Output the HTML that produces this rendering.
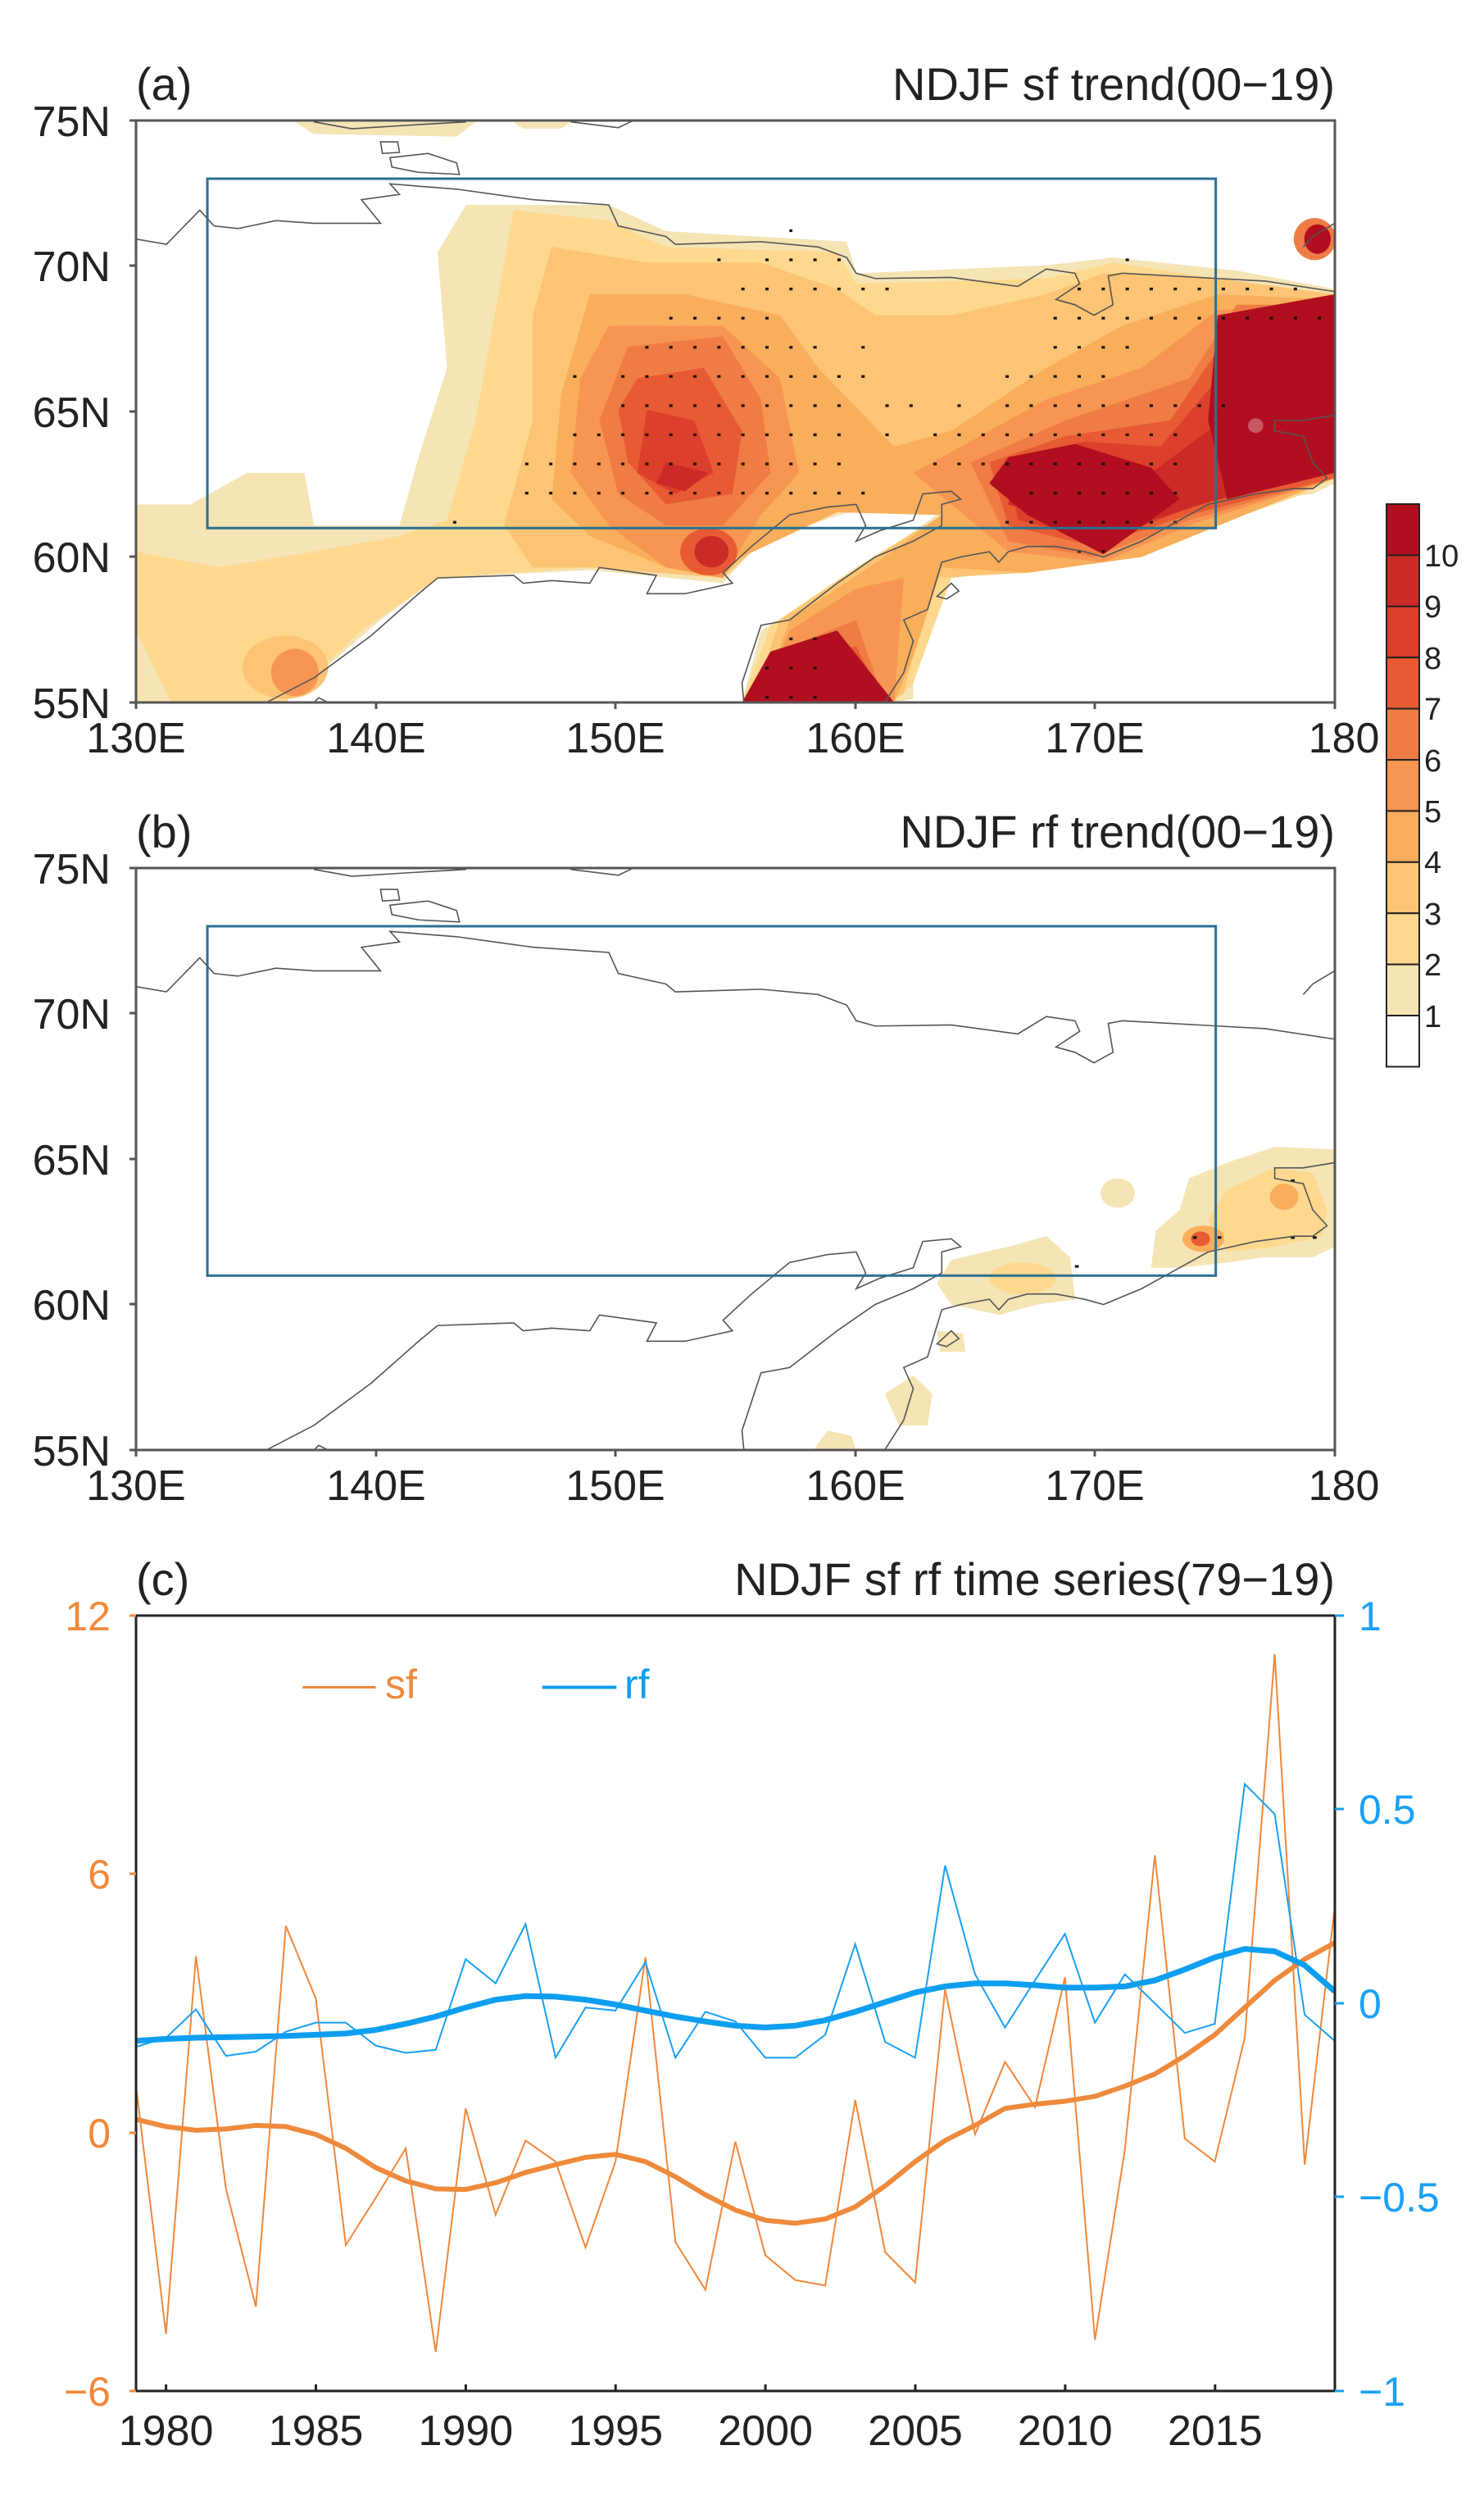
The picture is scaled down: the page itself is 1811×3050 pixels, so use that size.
<!DOCTYPE html>
<html><head><meta charset="utf-8"><style>
html,body{margin:0;padding:0;background:#fff}
svg{display:block}
text{font-family:"Liberation Sans Narrow","Liberation Sans",sans-serif}
</style></head><body>
<svg width="1811" height="3050" viewBox="0 0 1811 3050" xmlns="http://www.w3.org/2000/svg">
<defs>
<pattern id="dots" patternUnits="userSpaceOnUse" width="25.25" height="55.5">
<rect x="21.75" y="48" width="4" height="5" fill="#111"/>
</pattern>
<g id="coast" fill="none" stroke="#555" stroke-width="1.6" vector-effect="non-scaling-stroke">
<polyline vector-effect="non-scaling-stroke" points="330,232 370,245 450,236 490,232"/>
<polyline vector-effect="non-scaling-stroke" points="600,232 650,243 665,230"/>
<polygon vector-effect="non-scaling-stroke" points="400,270 418,270 420,290 402,292"/>
<polygon vector-effect="non-scaling-stroke" points="410,300 450,292 480,310 483,332 440,328 412,318"/>
<polyline vector-effect="non-scaling-stroke" points="143,455 175,465 210,400 225,430 250,435 290,420 330,425 400,425 380,380 420,370 410,350 480,360 560,380 640,390 650,430 700,450 710,465 800,460 860,470 890,490 900,520 920,530 1000,528 1070,545 1100,512 1130,520 1135,540 1110,570 1130,580 1150,600 1170,580 1165,525 1180,520 1280,530 1330,535 1403,555"/>
<polyline vector-effect="non-scaling-stroke" points="1370,470 1380,450 1403,425"/>
<polyline vector-effect="non-scaling-stroke" points="280,1337 330,1290 390,1210 440,1130 460,1100 540,1095 550,1110 580,1105 620,1110 630,1080 670,1090 690,1095 680,1130 720,1130 770,1110 760,1090 790,1040 830,980 870,965 900,960 910,1000 900,1030 925,1010 960,990 970,940 1000,935 1010,950 990,960 990,1000 960,1030 920,1060 880,1110 830,1180 800,1190 780,1300 782,1337"/>
<polyline vector-effect="non-scaling-stroke" points="930,1337 950,1280 960,1220 950,1180 975,1160 990,1070 1010,1060 1040,1050 1050,1070 1060,1050 1080,1040 1110,1040 1140,1050 1160,1060 1200,1030 1230,1000 1270,960 1320,940 1360,930 1380,930 1395,910 1380,880 1370,830 1340,820 1340,800 1370,800 1403,790"/>
<polygon vector-effect="non-scaling-stroke" points="985,1135 1000,1110 1008,1125 995,1140"/>
<polyline vector-effect="non-scaling-stroke" points="330,1337 335,1328 345,1337"/>
</g>
</defs>

<!-- Panel a -->
<svg x="0" y="0" width="1811" height="1000" viewBox="0 0 1560 1560" preserveAspectRatio="none">
<g stroke="none">
<polygon fill="#f5e4b4" points="143,960 200,960 260,900 320,900 330,1000 420,1000 440,870 470,700 460,480 490,390 640,390 700,440 890,460 900,520 1100,505 1170,490 1300,515 1403,550 1403,920 1380,940 1270,960 1200,1030 1160,1070 1060,1060 1000,1080 960,1150 960,1330 940,1337 780,1337 800,1200 900,1090 1000,960 900,970 800,1030 760,1110 620,1085 460,1100 400,1180 330,1290 290,1337 143,1337"/>
<polygon fill="#f5e4b4" points="310,232 500,232 480,260 330,255"/><polygon fill="#f5e4b4" points="540,232 600,232 590,245 550,245"/>
<polygon fill="#fdd88e" points="540,400 640,420 700,470 880,480 900,540 1100,530 1170,500 1280,530 1403,560 1403,910 1370,940 1200,1050 1100,1080 1000,1100 960,1300 940,1337 780,1337 810,1190 900,1080 990,980 880,975 790,1050 760,1100 620,1080 460,1100 380,1200 300,1337 180,1337 143,1200 143,1050 230,1080 330,1050 420,1020 470,990 500,800 520,600"/>
<polygon fill="#fcc474" points="580,470 680,500 800,500 880,550 920,600 1000,600 1100,560 1160,520 1280,530 1403,560 1403,910 1200,1060 1080,1090 980,1100 950,1320 930,1337 790,1337 820,1180 920,1060 990,980 880,975 790,1050 760,1100 620,1080 560,1080 530,1000 560,800 560,600"/>
<ellipse fill="#fcc474" cx="300" cy="1270" rx="45" ry="60"/>
<polygon fill="#f9ae5c" points="620,560 720,560 820,600 860,700 940,850 1000,820 1100,700 1180,620 1280,560 1403,570 1403,910 1200,1060 1080,1090 990,1080 960,1250 940,1337 800,1337 830,1180 930,1060 990,980 880,975 780,1060 700,1080 620,1020 580,950 590,750"/>
<ellipse fill="#f79652" cx="310" cy="1280" rx="25" ry="45"/>
<polygon fill="#f79652" points="640,620 760,620 820,720 840,900 800,980 760,1100 700,1080 640,1000 600,900 610,720"/>
<polygon fill="#f79652" points="1000,860 1100,760 1200,700 1280,590 1403,580 1403,910 1250,1000 1160,1070 1060,1050 1000,960 960,900"/>
<polygon fill="#f79652" points="800,1337 830,1200 900,1120 950,1100 940,1337"/>
<polygon fill="#f07c45" points="660,660 760,640 800,760 810,900 760,1000 700,1000 650,940 630,800"/>
<polygon fill="#f07c45" points="1020,880 1120,800 1250,720 1300,580 1403,580 1403,910 1250,990 1150,1060 1060,1030"/>
<polygon fill="#f07c45" points="790,1337 830,1230 900,1180 930,1337"/>
<ellipse fill="#e85a34" cx="745" cy="1050" rx="30" ry="45"/>
<polygon fill="#e85a34" points="670,720 740,700 780,820 770,940 700,960 660,880 650,780"/>
<polygon fill="#e85a34" points="1040,880 1120,830 1230,800 1290,640 1403,600 1403,910 1250,980 1150,1040 1060,1000"/>
<polygon fill="#e85a34" points="785,1337 820,1250 900,1230 930,1337"/>
<ellipse fill="#cc2a27" cx="748" cy="1050" rx="18" ry="30"/>
<polygon fill="#dc3f2b" points="680,780 730,800 750,900 710,940 670,900"/>
<polygon fill="#dc3f2b" points="1060,880 1140,840 1220,850 1290,700 1403,620 1403,900 1260,960 1160,1030 1070,990"/>
<polygon fill="#cc2a27" points="700,880 745,900 720,935 690,920"/>
<polygon fill="#cc2a27" points="1070,880 1150,860 1210,900 1300,780 1403,640 1403,900 1280,950 1160,1020 1060,960"/>
<polygon fill="#b10f1f" points="1060,870 1130,845 1210,890 1240,950 1160,1055 1080,980 1040,920"/>
<polygon fill="#b10f1f" points="1280,600 1403,560 1403,900 1290,950 1270,800"/>
<polygon fill="#b10f1f" points="780,1337 810,1240 880,1200 940,1337"/>
<ellipse fill="#f07c45" cx="1382" cy="455" rx="22" ry="40"/><ellipse fill="#b10f1f" cx="1385" cy="455" rx="14" ry="28"/>
<ellipse fill="#fff" cx="1320" cy="810" rx="8" ry="14" opacity="0.3"/>
</g>
<g fill="url(#dots)">
<rect x="825" y="435" width="8" height="10"/>
<rect x="750" y="488" width="10" height="10"/><rect x="800" y="488" width="86" height="10"/><rect x="1179" y="488" width="10" height="10"/>
<rect x="775" y="544" width="162" height="10"/><rect x="1129" y="544" width="235" height="10"/>
<rect x="699" y="600" width="111" height="10"/><rect x="1104" y="600" width="287" height="10"/>
<rect x="674" y="655" width="187" height="10"/><rect x="901" y="655" width="10" height="10"/><rect x="1104" y="655" width="85" height="10"/>
<rect x="598" y="711" width="10" height="10"/><rect x="649" y="711" width="262" height="10"/><rect x="1053" y="711" width="111" height="10"/>
<rect x="649" y="766" width="237" height="10"/><rect x="926" y="766" width="35" height="10"/><rect x="1002" y="766" width="10" height="10"/><rect x="1053" y="766" width="236" height="10"/>
<rect x="598" y="822" width="288" height="10"/><rect x="926" y="822" width="10" height="10"/><rect x="977" y="822" width="262" height="10"/>
<rect x="548" y="877" width="338" height="10"/><rect x="977" y="877" width="262" height="10"/>
<rect x="548" y="933" width="363" height="10"/><rect x="1078" y="933" width="161" height="10"/>
<rect x="473" y="988" width="10" height="10"/><rect x="1053" y="988" width="186" height="10"/>
<rect x="1129" y="1043" width="35" height="10"/>
<rect x="825" y="1209" width="35" height="10"/><rect x="800" y="1265" width="60" height="10"/><rect x="800" y="1320" width="60" height="10"/>
</g>
<use href="#coast"/>
<rect x="218" y="340" width="1060" height="665" fill="none" stroke="#2a7090" stroke-width="3" vector-effect="non-scaling-stroke"/>
</svg>

<!-- Panel b -->
<svg x="0" y="912" width="1811" height="1000" viewBox="0 0 1560 1560" preserveAspectRatio="none">
<g stroke="none">
<polygon fill="#f5e4b4" points="1250,820 1290,790 1340,760 1403,765 1403,950 1380,970 1330,970 1290,980 1240,990 1210,990 1215,920 1240,880"/>
<polygon fill="#fdd88e" points="1290,840 1340,800 1380,810 1395,880 1390,930 1340,950 1290,960 1270,900"/>
<ellipse fill="#f9ae5c" cx="1265" cy="935" rx="22" ry="25"/><ellipse fill="#e85a34" cx="1262" cy="935" rx="10" ry="14"/>
<ellipse fill="#f9ae5c" cx="1350" cy="855" rx="15" ry="25"/>
<ellipse fill="#f5e4b4" cx="1175" cy="848" rx="18" ry="28"/>
<polygon fill="#f5e4b4" points="1000,975 1060,950 1100,930 1125,970 1130,1050 1090,1060 1050,1080 1000,1060 985,1020"/>
<ellipse fill="#fdd88e" cx="1075" cy="1010" rx="35" ry="30"/>
<polygon fill="#f5e4b4" points="930,1230 960,1195 980,1230 975,1290 945,1290"/>
<polygon fill="#f5e4b4" points="855,1337 870,1300 895,1310 900,1337"/>
<polygon fill="#f5e4b4" points="985,1110 1012,1115 1015,1150 988,1150"/>
</g>
<g fill="#111"><rect x="1254" y="930" width="4" height="5"/><rect x="1280" y="930" width="4" height="5"/><rect x="1357" y="930" width="4" height="5"/><rect x="1380" y="930" width="4" height="5"/><rect x="1130" y="985" width="4" height="5"/><rect x="1357" y="822" width="4" height="5"/></g>
<use href="#coast"/>
<rect x="218" y="340" width="1060" height="665" fill="none" stroke="#2a7090" stroke-width="3" vector-effect="non-scaling-stroke"/>
</svg>

<!-- Map frames, ticks, labels -->
<g fill="none" stroke="#555" stroke-width="3">
<rect x="166" y="147" width="1463" height="710"/>
<rect x="166" y="1059" width="1463" height="710"/>
<path d="M158 147H166M158 324H166M158 502H166M158 679H166M158 857H166M166 857V865M459 857V865M751 857V865M1044 857V865M1336 857V865M1629 857V865"/>
<path d="M158 1059H166M158 1236H166M158 1414H166M158 1591H166M158 1769H166M166 1769V1777M459 1769V1777M751 1769V1777M1044 1769V1777M1336 1769V1777M1629 1769V1777"/>
</g>
<g font-size="56" fill="#222">
<text x="166" y="122">(a)</text>
<text x="1629" y="122" text-anchor="end">NDJF  sf  trend(00−19)</text>
<text x="166" y="1034">(b)</text>
<text x="1629" y="1034" text-anchor="end">NDJF  rf  trend(00−19)</text>
<text x="166" y="1946">(c)</text>
<text x="1629" y="1946" text-anchor="end">NDJF  sf  rf  time  series(79−19)</text>
</g>
<g font-size="52" fill="#222" text-anchor="end">
<text x="135" y="166">75N</text><text x="135" y="343">70N</text><text x="135" y="521">65N</text><text x="135" y="698">60N</text><text x="135" y="876">55N</text>
<text x="135" y="1078">75N</text><text x="135" y="1255">70N</text><text x="135" y="1433">65N</text><text x="135" y="1610">60N</text><text x="135" y="1788">55N</text>
</g>
<g font-size="52" fill="#222" text-anchor="middle">
<text x="166" y="918">130E</text><text x="459" y="918">140E</text><text x="751" y="918">150E</text><text x="1044" y="918">160E</text><text x="1336" y="918">170E</text><text x="1640" y="918">180</text>
<text x="166" y="1830">130E</text><text x="459" y="1830">140E</text><text x="751" y="1830">150E</text><text x="1044" y="1830">160E</text><text x="1336" y="1830">170E</text><text x="1640" y="1830">180</text>
</g>

<!-- Colorbar -->
<g stroke="#222" stroke-width="2">
<rect x="1692" y="615" width="40" height="62.4" fill="#b10f1f"/>
<rect x="1692" y="677.4" width="40" height="62.4" fill="#cc2a27"/>
<rect x="1692" y="739.8" width="40" height="62.4" fill="#dc3f2b"/>
<rect x="1692" y="802.2" width="40" height="62.4" fill="#e85a34"/>
<rect x="1692" y="864.6" width="40" height="62.4" fill="#f07c45"/>
<rect x="1692" y="927" width="40" height="62.4" fill="#f79652"/>
<rect x="1692" y="989.4" width="40" height="62.4" fill="#f9ae5c"/>
<rect x="1692" y="1051.8" width="40" height="62.4" fill="#fcc474"/>
<rect x="1692" y="1114.2" width="40" height="62.4" fill="#fdd88e"/>
<rect x="1692" y="1176.6" width="40" height="62.4" fill="#f5e4b4"/>
<rect x="1692" y="1239" width="40" height="62.4" fill="#fff"/>
</g>
<g font-size="38" fill="#222">
<text x="1738" y="691">10</text><text x="1738" y="753">9</text><text x="1738" y="816">8</text><text x="1738" y="878">7</text><text x="1738" y="941">6</text><text x="1738" y="1003">5</text><text x="1738" y="1065">4</text><text x="1738" y="1128">3</text><text x="1738" y="1190">2</text><text x="1738" y="1253">1</text>
</g>

<!-- Panel c -->
<svg x="0" y="1900" width="1811" height="1150" viewBox="0 0 1560 1560" preserveAspectRatio="none">
<polyline fill="none" stroke="#f0883a" stroke-width="2" vector-effect="non-scaling-stroke" points="143,875 174.5,1285 206,660 237.5,1045 269,1240 300.5,610 332,730 363.5,1138 395,1060 426.5,978 458,1315 489.5,912 521,1088 552.5,965 584,1000 615.5,1142 647,1000 678.5,662 710,1133 741.5,1212 773,967 804.5,1155 836,1196 867.5,1205 899,898 930.5,1150 962,1200 993.5,715 1025,955 1056.5,835 1088,910 1119.5,695 1151,1295 1182.5,980 1214,493 1245.5,962 1277,1000 1308.5,795 1340,160 1371.5,1005 1403,580"/>
<polyline fill="none" stroke="#1aa0f5" stroke-width="2" vector-effect="non-scaling-stroke" points="143,810 174.5,795 206,748 237.5,825 269,818 300.5,785 332,770 363.5,770 395,808 426.5,820 458,815 489.5,665 521,705 552.5,607 584,828 615.5,745 647,750 678.5,670 710,828 741.5,752 773,768 804.5,828 836,828 867.5,790 899,640 930.5,802 962,828 993.5,510 1025,690 1056.5,778 1088,700 1119.5,623 1151,770 1182.5,690 1214,738 1245.5,787 1277,772 1308.5,375 1340,425 1371.5,757 1403,800"/>
<polyline fill="none" stroke="#ee8a3c" stroke-width="6" stroke-linejoin="round" vector-effect="non-scaling-stroke" points="143,930 174.5,942 206,948 237.5,946 269,940 300.5,942 332,955 363.5,978 395,1010 426.5,1032 458,1045 489.5,1046 521,1035 552.5,1018 584,1005 615.5,993 647,988 678.5,1000 710,1025 741.5,1055 773,1080 804.5,1097 836,1102 867.5,1095 899,1075 930.5,1040 962,1000 993.5,965 1025,940 1056.5,912 1088,905 1119.5,900 1151,892 1182.5,875 1214,855 1245.5,825 1277,790 1308.5,745 1340,700 1371.5,665 1403,638"/>
<polyline fill="none" stroke="#0d9ef0" stroke-width="7" stroke-linejoin="round" vector-effect="non-scaling-stroke" points="143,800 174.5,797 206,795 237.5,794 269,793 300.5,792 332,790 363.5,788 395,782 426.5,772 458,760 489.5,745 521,732 552.5,726 584,727 615.5,732 647,740 678.5,750 710,760 741.5,768 773,775 804.5,778 836,775 867.5,766 899,752 930.5,736 962,720 993.5,710 1025,705 1056.5,705 1088,708 1119.5,712 1151,712 1182.5,710 1214,700 1245.5,682 1277,662 1308.5,648 1340,652 1371.5,675 1403,718"/>
<line x1="318" y1="215" x2="395" y2="215" stroke="#ee8a3c" stroke-width="3" vector-effect="non-scaling-stroke"/>
<line x1="570" y1="215" x2="648" y2="215" stroke="#0d9ef0" stroke-width="4" vector-effect="non-scaling-stroke"/>
</svg>
<rect x="166" y="1971" width="1463" height="946" fill="none" stroke="#222" stroke-width="3"/>
<path d="M158 1971H166M158 2286H166M158 2602H166M158 2917H166" stroke="#f0883a" stroke-width="3"/>
<path d="M1629 1971H1640M1629 2207H1640M1629 2444H1640M1629 2680H1640M1629 2917H1640" stroke="#1aa0f5" stroke-width="3"/>
<path d="M202.6 2917V2909M385.5 2917V2909M568.4 2917V2909M751.2 2917V2909M934.1 2917V2909M1117 2917V2909M1299.9 2917V2909M1482.8 2917V2909" stroke="#222" stroke-width="3"/>
<g font-size="50" fill="#f0883a" text-anchor="end">
<text x="135" y="1989">12</text><text x="135" y="2304">6</text><text x="135" y="2620">0</text><text x="135" y="2935">−6</text>
</g>
<g font-size="50" fill="#1aa0f5">
<text x="1658" y="1989">1</text><text x="1658" y="2225">0.5</text><text x="1658" y="2462">0</text><text x="1658" y="2698">−0.5</text><text x="1658" y="2935">−1</text>
</g>
<g font-size="50" fill="#ee8a3c"><text x="470" y="2072">sf</text></g>
<g font-size="50" fill="#0d9ef0"><text x="762" y="2072">rf</text></g>
<g font-size="52" fill="#222" text-anchor="middle">
<text x="202.6" y="2983">1980</text><text x="385.5" y="2983">1985</text><text x="568.4" y="2983">1990</text><text x="751.2" y="2983">1995</text><text x="934.1" y="2983">2000</text><text x="1117" y="2983">2005</text><text x="1299.9" y="2983">2010</text><text x="1482.8" y="2983">2015</text>
</g>
</svg>
</body></html>
